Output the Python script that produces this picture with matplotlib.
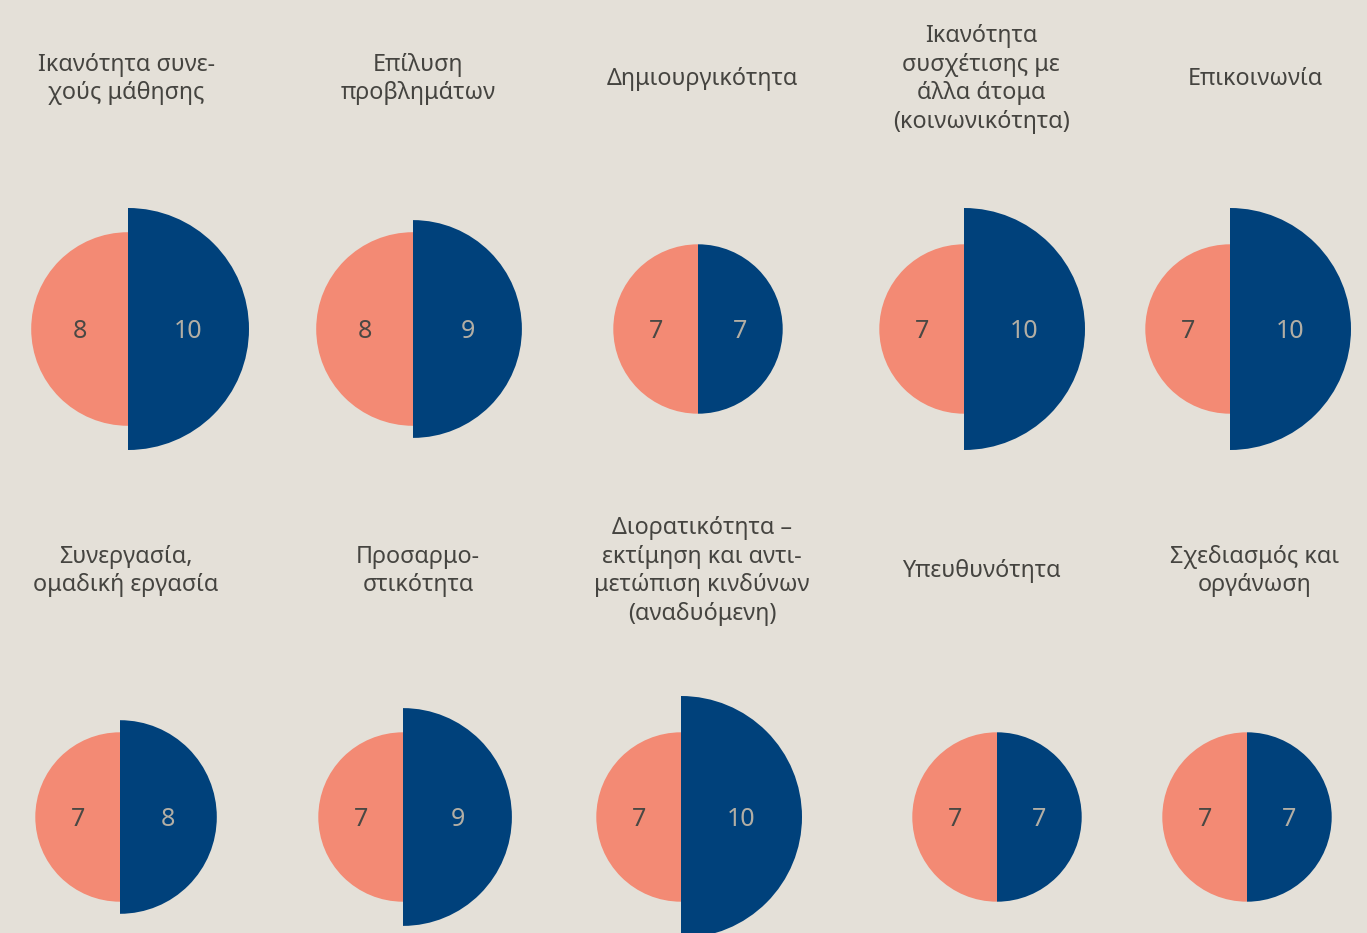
import matplotlib.pyplot as plt
from matplotlib.patches import Wedge

plt.rcParams['font.family'] = ['Noto Sans', 'DejaVu Sans']

# Skills and scores for the two groups (left half / right half)
skills = [
    "Ικανότητα συνε-\nχούς μάθησης",
    "Επίλυση\nπροβλημάτων",
    "Δημιουργικότητα",
    "Ικανότητα\nσυσχέτισης με\nάλλα άτομα\n(κοινωνικότητα)",
    "Επικοινωνία",
    "Συνεργασία,\nομαδική εργασία",
    "Προσαρμο-\nστικότητα",
    "Διορατικότητα –\nεκτίμηση και αντι-\nμετώπιση κινδύνων\n(αναδυόμενη)",
    "Υπευθυνότητα",
    "Σχεδιασμός και\nοργάνωση",
]
left_scores = [8, 8, 7, 7, 7, 7, 7, 7, 7, 7]
right_scores = [10, 9, 7, 10, 10, 8, 9, 10, 7, 7]

# layout (pixel units)
col_x = [126, 418, 702, 981, 1255]
circle_x = [[128, 413, 698, 964, 1230], [120, 403, 681, 997, 1247]]
circle_y = [329, 817]
title_y = [79, 571]
px_per_point = 12.1

bg = "#e4e0d8"
salmon = "#f38a74"
navy = "#00417b"

fig = plt.figure(figsize=(13.67, 9.33), dpi=100)
fig.patch.set_facecolor(bg)
ax = fig.add_axes([0, 0, 1, 1])
ax.set_xlim(0, 1367)
ax.set_ylim(933, 0)
ax.set_aspect("equal")
ax.axis("off")

for i, name in enumerate(skills):
    row, col = divmod(i, 5)
    cx, cy = circle_x[row][col], circle_y[row]
    rl = left_scores[i] * px_per_point
    rr = right_scores[i] * px_per_point
    # y axis is inverted, so angles 90..270 still map to the left side
    ax.add_patch(Wedge((cx, cy), rl, 90, 270, facecolor=salmon, edgecolor="none"))
    ax.add_patch(Wedge((cx, cy), rr, -90, 90, facecolor=navy, edgecolor="none"))
    ax.text(cx - rl / 2, cy + 2, str(left_scores[i]), ha="center", va="center",
            fontsize=18, color="#4a4844")
    ax.text(cx + rr / 2, cy + 2, str(right_scores[i]), ha="center", va="center",
            fontsize=18, color="#b3aea4")
    ax.text(col_x[col], title_y[row], name, ha="center", va="center",
            fontsize=16.8, color="#454440", linespacing=1.27)

fig.savefig("out.png", dpi=100, facecolor=bg)
